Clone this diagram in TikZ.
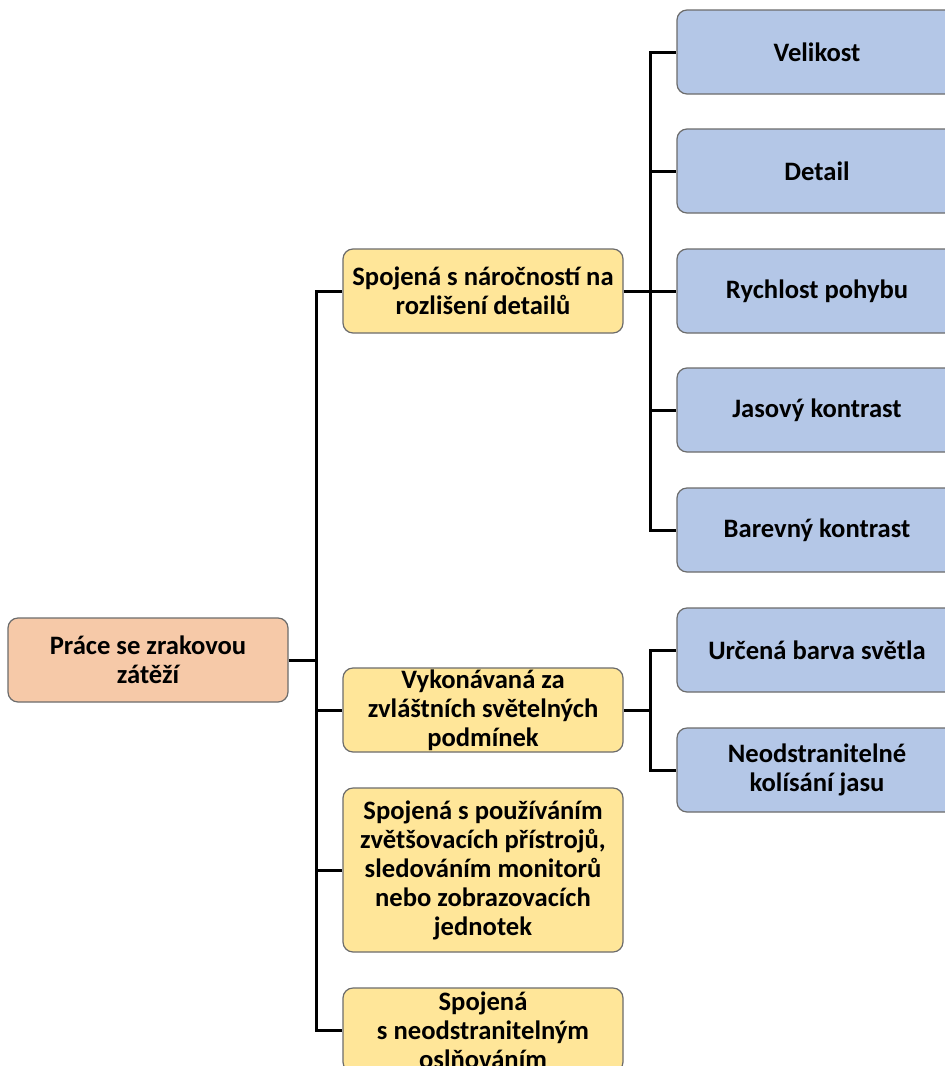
\documentclass[tikz,border=0pt]{standalone}
\usepackage{fontspec}
\setmainfont{Carlito}
\begin{document}
\begin{tikzpicture}[x=1pt,y=-1pt,
  box/.style={draw=gray!85!black, line width=1.2pt, rounded corners=10pt, minimum width=280pt, minimum height=84pt, align=flush center, text width=276pt, inner sep=0pt, font=\fontsize{26.6}{29}\selectfont\bfseries},
  rootbox/.style={box, fill=rootc},
  midbox/.style={box, fill=midc},
  leafbox/.style={box, fill=leafc},
  conn/.style={line width=3pt, black}]
\definecolor{rootc}{HTML}{F6C9A8}
\definecolor{midc}{HTML}{FFE699}
\definecolor{leafc}{HTML}{B4C7E7}
\clip (0,0) rectangle (945,1066);
\fill[white] (0,0) rectangle (945,1066);

\node[rootbox] (r) at (148,660) {Práce se zrakovou\\zátěží};

\node[midbox] (a) at (483,291) {Spojená s náročností na\\rozlišení detailů};
\node[midbox] (b) at (483,710) {Vykonávaná za\\zvláštních světelných\\podmínek};
\node[midbox, minimum height=164pt] (c) at (483,870) {Spojená s používáním\\zvětšovacích přístrojů,\\sledováním monitorů\\nebo zobrazovacích\\jednotek};
\node[midbox] (d) at (483,1030) {Spojená\\s neodstranitelným\\oslňováním};

\node[leafbox] (l1) at (817,52) {Velikost};
\node[leafbox] (l2) at (817,171) {Detail};
\node[leafbox] (l3) at (817,291) {Rychlost pohybu};
\node[leafbox] (l4) at (817,410) {Jasový kontrast};
\node[leafbox] (l5) at (817,530) {Barevný kontrast};
\node[leafbox] (l6) at (817,650) {Určená barva světla};
\node[leafbox] (l7) at (817,770) {Neodstranitelné\\kolísání jasu};

\coordinate (j0) at (316,660);
\coordinate (j1) at (650,291);
\coordinate (j2) at (650,710);

\draw[conn] (r.east) -- (j0);
\foreach \n in {a,b,c,d} \draw[conn] (j0) |- (\n.west);
\draw[conn] (a.east) -- (j1);
\foreach \n in {l1,l2,l3,l4,l5} \draw[conn] (j1) |- (\n.west);
\draw[conn] (b.east) -- (j2);
\foreach \n in {l6,l7} \draw[conn] (j2) |- (\n.west);
\end{tikzpicture}
\end{document}
